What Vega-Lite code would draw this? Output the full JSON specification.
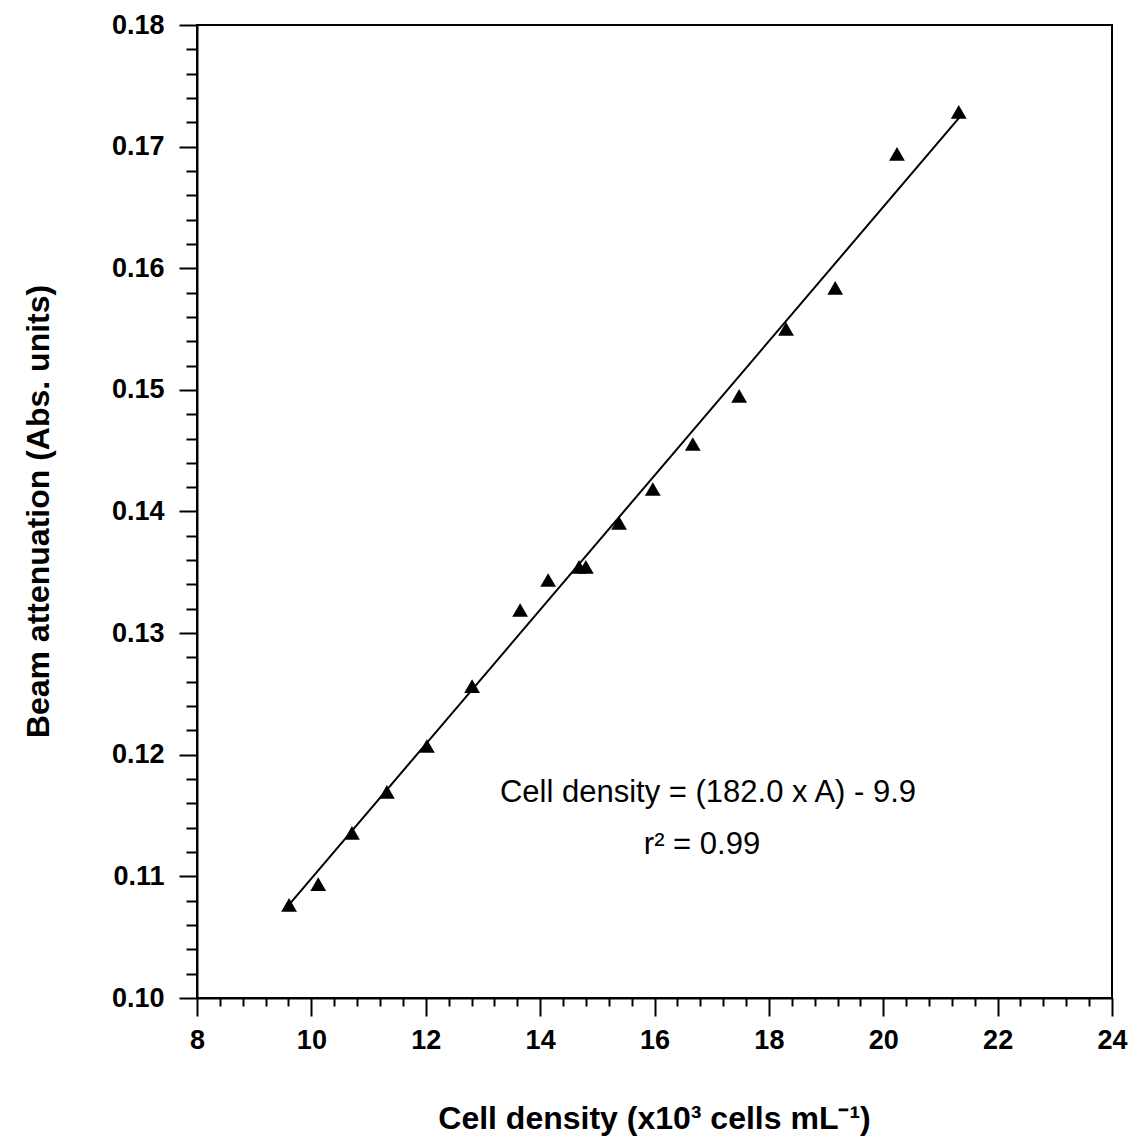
{
  "$schema": "https://vega.github.io/schema/vega-lite/v6.json",
  "width": 915,
  "height": 973,
  "autosize": {"type": "none"},
  "padding": {"left": 197, "top": 25, "right": 20, "bottom": 138},
  "background": "white",
  "config": {
    "view": {"stroke": "black", "strokeWidth": 2},
    "font": "Liberation Sans",
    "axis": {
      "grid": false,
      "domainColor": "black",
      "domainWidth": 2,
      "tickColor": "black",
      "tickWidth": 2,
      "labelColor": "black",
      "titleColor": "black",
      "labelFont": "Liberation Sans",
      "titleFont": "Liberation Sans",
      "labelOverlap": false,
      "labelFlush": false,
      "labelBound": false
    }
  },
  "datasets": {
    "points": [
      {"density": 9.61, "attenuation": 0.10765},
      {"density": 10.12, "attenuation": 0.10937},
      {"density": 10.71, "attenuation": 0.11357},
      {"density": 11.32, "attenuation": 0.11694},
      {"density": 12.02, "attenuation": 0.12072},
      {"density": 12.81, "attenuation": 0.12565},
      {"density": 13.65, "attenuation": 0.13190},
      {"density": 14.14, "attenuation": 0.13437},
      {"density": 14.68, "attenuation": 0.13544},
      {"density": 14.80, "attenuation": 0.13544},
      {"density": 15.38, "attenuation": 0.13906},
      {"density": 15.97, "attenuation": 0.14185},
      {"density": 16.67, "attenuation": 0.14555},
      {"density": 17.48, "attenuation": 0.14950},
      {"density": 18.30, "attenuation": 0.15501},
      {"density": 19.16, "attenuation": 0.15838},
      {"density": 20.24, "attenuation": 0.16940},
      {"density": 21.32, "attenuation": 0.17285}
    ],
    "fit": [
      {"density": 9.574, "attenuation": 0.10748},
      {"density": 21.34, "attenuation": 0.17244}
    ],
    "notes": [
      {"density": 16.935, "attenuation": 0.11612, "label": "Cell density = (182.0 x A) - 9.9"},
      {"density": 16.83, "attenuation": 0.11185, "label": "r² = 0.99"}
    ]
  },
  "layer": [
    {
      "data": {"name": "fit"},
      "mark": {"type": "line", "color": "black", "strokeWidth": 2},
      "encoding": {
        "x": {
          "field": "density", "type": "quantitative",
          "scale": {"domain": [8, 24], "nice": false, "zero": false},
          "axis": {
            "orient": "bottom",
            "values": [8.4, 8.8, 9.2, 9.6, 10.4, 10.8, 11.2, 11.6, 12.4, 12.8, 13.2, 13.6, 14.4, 14.8, 15.2, 15.6, 16.4, 16.8, 17.2, 17.6, 18.4, 18.8, 19.2, 19.6, 20.4, 20.8, 21.2, 21.6, 22.4, 22.8, 23.2, 23.6],
            "labels": false, "domain": false, "title": null, "tickSize": 8
          }
        },
        "y": {
          "field": "attenuation", "type": "quantitative",
          "scale": {"domain": [0.10, 0.18], "nice": false, "zero": false},
          "axis": {
            "orient": "left",
            "values": [0.102, 0.104, 0.106, 0.108, 0.112, 0.114, 0.116, 0.118, 0.122, 0.124, 0.126, 0.128, 0.132, 0.134, 0.136, 0.138, 0.142, 0.144, 0.146, 0.148, 0.152, 0.154, 0.156, 0.158, 0.162, 0.164, 0.166, 0.168, 0.172, 0.174, 0.176, 0.178],
            "labels": false, "domain": false, "title": null, "tickSize": 11
          }
        }
      }
    },
    {
      "data": {"name": "points"},
      "mark": {"type": "point", "shape": "triangle-up", "filled": true, "color": "black", "opacity": 1, "size": 250},
      "encoding": {
        "x": {
          "field": "density", "type": "quantitative",
          "scale": {"domain": [8, 24], "nice": false, "zero": false},
          "axis": {
            "orient": "bottom",
            "values": [8, 10, 12, 14, 16, 18, 20, 22, 24],
            "tickSize": 18,
            "labelFontSize": 27,
            "labelFontWeight": "bold",
            "labelPadding": 11,
            "title": "Cell density (x10³ cells mL⁻¹)",
            "titleFontSize": 32,
            "titleFontWeight": "bold",
            "titleBaseline": "alphabetic",
            "titleX": 457,
            "titleY": 130
          }
        },
        "y": {
          "field": "attenuation", "type": "quantitative",
          "scale": {"domain": [0.10, 0.18], "nice": false, "zero": false},
          "axis": {
            "orient": "left",
            "values": [0.10, 0.11, 0.12, 0.13, 0.14, 0.15, 0.16, 0.17, 0.18],
            "format": ".2f",
            "tickSize": 18,
            "labelFontSize": 27,
            "labelFontWeight": "bold",
            "labelPadding": 15,
            "title": "Beam attenuation (Abs. units)",
            "titleFontSize": 32,
            "titleFontWeight": "bold",
            "titleAngle": -90,
            "titleAlign": "center",
            "titleBaseline": "alphabetic",
            "titleX": -149,
            "titleY": 486
          }
        }
      }
    },
    {
      "data": {"name": "notes"},
      "mark": {"type": "text", "color": "black", "fontSize": 31, "align": "center", "baseline": "alphabetic", "font": "Liberation Sans"},
      "encoding": {
        "x": {"field": "density", "type": "quantitative", "scale": {"domain": [8, 24], "nice": false, "zero": false}, "axis": null},
        "y": {"field": "attenuation", "type": "quantitative", "scale": {"domain": [0.10, 0.18], "nice": false, "zero": false}, "axis": null},
        "text": {"field": "label", "type": "nominal"}
      }
    }
  ],
  "resolve": {"axis": {"x": "independent", "y": "independent"}}
}
